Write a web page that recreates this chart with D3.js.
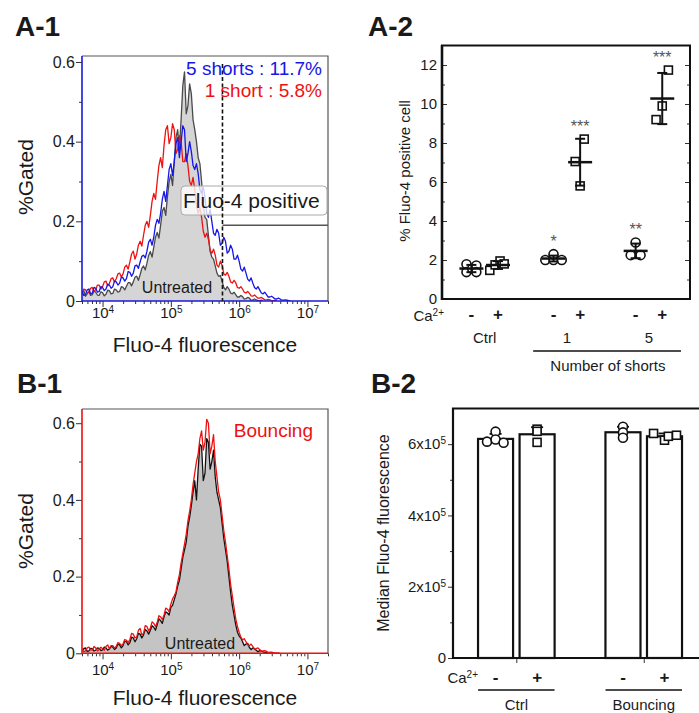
<!DOCTYPE html>
<html lang="en">
<head>
  <meta charset="UTF-8" />
  <title>Fluo-4 fluorescence</title>
  <script src="https://d3js.org/d3.v7.min.js"></script>
  <style>
    body { margin: 0; background: #fff; }
    svg { display: block; font-family: "Liberation Sans", Arial, sans-serif; }
    text { fill: #1a1a1a; }
  </style>
</head>
<body>
  <svg width="699" height="713"></svg>
  <script>
    // histogram bins: log10(fluorescence), first bin 3.700, step 0.025
    const binStart = 3.70;
    const binStep = 0.025;

    const a1Untreated = [
      .020, .026, .012, .018, .024, .014, .016, .025, .022, .015,
      .014, .023, .021, .013, .017, .027, .026, .018, .019, .030,
      .028, .022, .024, .036, .034, .028, .037, .046, .046, .038,
      .048, .060, .062, .052, .066, .082, .088, .078, .095, .115,
      .124, .110, .135, .160, .172, .158, .190, .225, .235, .215,
      .262, .300, .318, .290, .350, .410, .430, .380, .455, .540,
      .575, .470, .490, .545, .520, .455, .430, .400, .360, .345,
      .300, .240, .210, .205, .165, .125, .110, .105, .088, .070,
      .062, .064, .050, .034, .028, .036, .030, .020, .018, .022,
      .016, .010, .010, .014, .011, .005, .006, .009, .007, .002,
      .003, .005, .003, .001, .001, .002, 0
    ];
    const a1OneShort = [
      .018, .030, .028, .020, .022, .032, .034, .024, .028, .040,
      .040, .030, .036, .048, .050, .038, .044, .056, .058, .048,
      .056, .068, .070, .060, .068, .085, .090, .080, .098, .118,
      .125, .105, .118, .140, .150, .138, .165, .190, .200, .185,
      .215, .250, .270, .255, .300, .340, .360, .335, .390, .430,
      .440, .395, .410, .445, .430, .370, .380, .415, .400, .350,
      .350, .370, .340, .300, .290, .310, .280, .240, .220, .235,
      .210, .175, .160, .170, .155, .128, .120, .130, .115, .090,
      .085, .100, .090, .068, .065, .072, .062, .048, .045, .052,
      .046, .034, .032, .036, .030, .022, .020, .024, .019, .013,
      .012, .015, .011, .007, .007, .009, .006, .003, .003, .004,
      .003, .001, .001, .001, 0
    ];
    const a1FiveShorts = [
      .024, .014, .016, .028, .030, .018, .020, .034, .032, .022,
      .024, .036, .034, .026, .030, .042, .040, .032, .036, .050,
      .048, .040, .045, .060, .058, .050, .056, .074, .072, .062,
      .070, .088, .090, .082, .098, .112, .115, .108, .125, .148,
      .155, .140, .160, .190, .205, .195, .220, .255, .275, .250,
      .290, .330, .345, .315, .350, .395, .410, .360, .400, .440,
      .430, .350, .370, .400, .375, .340, .330, .345, .320, .280,
      .270, .285, .260, .220, .210, .230, .200, .170, .165, .180,
      .170, .140, .145, .160, .150, .120, .125, .140, .130, .105,
      .105, .115, .100, .080, .075, .085, .070, .055, .050, .058,
      .045, .034, .030, .036, .028, .020, .018, .022, .016, .010,
      .010, .012, .009, .005, .005, .007, .005, .002, .002, .003,
      .002, .001, 0
    ];
    const b1Untreated = [
      .008, .012, .014, .005, .006, .013, .012, .006, .008, .014,
      .013, .007, .009, .016, .014, .008, .011, .018, .016, .010,
      .014, .024, .022, .014, .020, .032, .030, .022, .028, .042,
      .040, .030, .038, .052, .050, .040, .048, .062, .058, .050,
      .060, .072, .068, .060, .075, .090, .085, .078, .095, .108,
      .105, .100, .120, .125, .140, .155, .175, .190, .220, .250,
      .270, .290, .330, .355, .385, .420, .450, .400, .480, .545,
      .540, .450, .470, .560, .550, .480, .500, .530, .460, .420,
      .400, .380, .340, .300, .270, .240, .200, .160, .125, .100,
      .075, .055, .045, .040, .030, .020, .024, .026, .015, .010,
      .014, .012, .008, .004, .007, .006, .004, .002, .003, .002,
      .001, .001, 0
    ];
    const b1Bouncing = [
      .012, .004, .006, .014, .016, .009, .008, .018, .014, .006,
      .010, .016, .012, .008, .018, .022, .012, .020, .020, .014,
      .018, .028, .026, .020, .024, .036, .034, .028, .036, .052,
      .050, .040, .042, .060, .065, .048, .052, .072, .070, .058,
      .066, .082, .078, .070, .080, .098, .095, .088, .100, .118,
      .115, .108, .128, .142, .150, .160, .185, .205, .235, .260,
      .285, .310, .345, .370, .400, .440, .470, .500, .520, .560,
      .580, .530, .550, .610, .600, .520, .540, .570, .500, .460,
      .420, .400, .360, .320, .290, .255, .220, .180, .150, .120,
      .090, .070, .055, .042, .035, .038, .030, .022, .020, .024,
      .018, .010, .012, .014, .010, .005, .006, .007, .005, .002,
      .003, .003, .002, .001, .001, .001, 0
    ];
    const histTicks = [1e4, 1e5, 1e6, 1e7];
    const gatedTicks = [0, 0.2, 0.4, 0.6];
    const gatedMinor = [0.1, 0.3, 0.5];
    const gateCut = 5.7e5;
    const gateLevel = 0.19;

    // A-2: % Fluo-4 positive cells per condition
    const a2Groups = ["Ctrl", "1", "5"];
    const a2Ca = ["-", "+", "-", "+", "-", "+"];
    const a2Shapes = ["circle", "square", "circle", "square", "circle", "square"];
    const a2Points = [
      [1.78, 1.38, 1.55, 1.72, 1.38],
      [1.47, 1.75, 1.95, 1.80],
      [2.00, 2.00, 2.30, 2.00],
      [7.05, 8.20, 5.80],
      [2.25, 2.90, 2.25],
      [9.20, 9.90, 11.74]
    ];
    const a2Jitter = [
      [-0.06, -0.06, 0.01, 0.06, 0.06],
      [-0.1, -0.035, 0.025, 0.075],
      [-0.1, 0, 0, 0.1],
      [-0.06, 0.05, 0],
      [-0.06, 0, 0.06],
      [-0.075, 0, 0.075]
    ];
    const a2Stars = ["", "", "*", "***", "**", "***"];
    const a2Ticks = [0, 2, 4, 6, 8, 10, 12];

    // B-2: median Fluo-4 fluorescence per condition
    const b2Groups = ["Ctrl", "Bouncing"];
    const b2Ca = ["-", "+", "-", "+"];
    const b2Shapes = ["circle", "square", "circle", "square"];
    const b2Points = [
      [6.07e5, 6.35e5, 6.13e5, 6.04e5],
      [6.42e5, 6.36e5, 6.05e5],
      [6.49e5, 6.33e5, 6.18e5],
      [6.30e5, 6.11e5, 6.22e5, 6.25e5]
    ];
    const b2Jitter = [
      [-0.067, 0, 0, 0.063],
      [0, 0, 0],
      [0, 0, 0],
      [-0.086, 0, 0.03, 0.094]
    ];
    const b2Ticks = [0, 2e5, 4e5, 6e5];

    const svg = d3.select("svg");

    function marker(sel, shape, cx, cy) {
      if (shape === "circle") {
        sel.append("circle").attr("cx", cx).attr("cy", cy).attr("r", 4.5)
          .attr("fill", "#fff").attr("stroke", "#111").attr("stroke-width", 1.6);
      } else {
        sel.append("rect").attr("x", cx - 4).attr("y", cy - 4).attr("width", 8).attr("height", 8)
          .attr("fill", "#fff").attr("stroke", "#111").attr("stroke-width", 1.6);
      }
    }

    function cleanAxis(a, size) {
      a.attr("font-family", null).attr("font-size", size);
      a.select(".domain").remove();
      a.selectAll(".tick line").attr("stroke", "#333");
      a.selectAll(".tick text").attr("fill", "#1a1a1a");
    }

    function caLabel(g, xEnd, yBase) {
      const t = g.append("text").attr("x", xEnd).attr("y", yBase).attr("text-anchor", "end")
        .attr("font-size", 15).text("Ca");
      t.append("tspan").attr("dy", -5).attr("font-size", 10).text("2+");
    }

    // ---------- histogram panels ----------
    function drawHist(cfg) {
      const g = svg.append("g");
      const x = d3.scaleLog().domain([5e3, 2e7]).range([82, 328]);
      const y = d3.scaleLinear().domain([0, cfg.yMax]).range([cfg.y0, cfg.yTop]);
      const bx = (d, i) => x(Math.pow(10, binStart + i * binStep));

      g.append("clipPath").attr("id", cfg.id).append("rect")
        .attr("x", 82).attr("y", cfg.yTop).attr("width", 246).attr("height", cfg.y0 - cfg.yTop);
      const plot = g.append("g").attr("clip-path", `url(#${cfg.id})`);

      plot.append("path").datum(cfg.fill)
        .attr("d", d3.area().x(bx).y0(y(0)).y1(d => y(d)))
        .attr("fill", cfg.fillColor);

      const line = d3.line().x(bx).y(d => y(d));
      cfg.lines.forEach(l => {
        plot.append("path").datum(l.values).attr("d", line)
          .attr("fill", "none").attr("stroke", l.color)
          .attr("stroke-width", 1.3).attr("stroke-linejoin", "round");
      });

      // y axis
      g.append("g").attr("transform", "translate(82,0)")
        .call(d3.axisLeft(y).tickValues(gatedMinor).tickSize(3).tickFormat(""))
        .call(a => cleanAxis(a, 16));
      g.append("g").attr("transform", "translate(82,0)")
        .call(d3.axisLeft(y).tickValues(gatedTicks).tickSize(6).tickPadding(1)
          .tickFormat(d => d === 0 ? "0" : d.toFixed(1)))
        .call(a => cleanAxis(a, 16));

      // x axis, log ticks
      const minor = x.ticks().filter(d => !histTicks.includes(d));
      g.append("g").attr("transform", `translate(0,${cfg.y0})`)
        .call(d3.axisBottom(x).tickValues(minor).tickSize(3).tickFormat(""))
        .call(a => cleanAxis(a, 15));
      g.append("g").attr("transform", `translate(0,${cfg.y0})`)
        .call(d3.axisBottom(x).tickValues(histTicks).tickSize(6).tickPadding(cfg.tickPad).tickFormat(""))
        .call(a => {
          cleanAxis(a, 15);
          a.selectAll(".tick text").each(function (d) {
            const t = d3.select(this);
            t.text("10");
            t.append("tspan").attr("dy", "-0.5em").attr("font-size", 10).text(Math.round(Math.log10(d)));
          });
        });

      // frame: coloured left/bottom, gray top/right
      g.append("path").attr("fill", "none").attr("stroke", "#555").attr("stroke-width", 1.2)
        .attr("d", `M82,${cfg.yTop}H328V${cfg.y0}`);
      g.append("path").attr("fill", "none").attr("stroke", cfg.axisColor).attr("stroke-width", 1.6)
        .attr("d", `M82,${cfg.yTop}V${cfg.y0}H328`);

      g.append("text").attr("x", 205).attr("y", cfg.titleY).attr("text-anchor", "middle")
        .attr("font-size", 21).text("Fluo-4 fluorescence");
      g.append("text").attr("transform", `translate(33,${cfg.yLabelY}) rotate(-90)`)
        .attr("text-anchor", "middle").attr("font-size", 21).text("%Gated");
      return { g, x, y };
    }

    const a1 = drawHist({
      id: "clipA1", yMax: 0.615, y0: 301, yTop: 56, tickPad: 0, titleY: 352, yLabelY: 177,
      fill: a1Untreated, fillColor: "#d5d5d5", axisColor: "#1a1ae0",
      lines: [
        { values: a1Untreated, color: "#4a4a4a" },
        { values: a1OneShort, color: "#ee1111" },
        { values: a1FiveShorts, color: "#1616e8" }
      ]
    });

    // gate annotation
    a1.g.append("rect").attr("x", 181).attr("y", 186).attr("width", 146).attr("height", 29).attr("rx", 4)
      .attr("fill", "rgba(255,255,255,0.78)").attr("stroke", "#aaa").attr("stroke-width", 1);
    a1.g.append("text").attr("x", 183).attr("y", 208).attr("font-size", 21).text("Fluo-4 positive");
    a1.g.append("line").attr("x1", a1.x(gateCut)).attr("x2", a1.x(gateCut))
      .attr("y1", a1.y(0.6) + 2).attr("y2", a1.y(0))
      .attr("stroke", "#111").attr("stroke-width", 1.6).attr("stroke-dasharray", "4,2.5");
    a1.g.append("line").attr("x1", a1.x(gateCut)).attr("x2", 328)
      .attr("y1", a1.y(gateLevel)).attr("y2", a1.y(gateLevel))
      .attr("stroke", "#555").attr("stroke-width", 1.5);
    a1.g.append("text").attr("x", 322).attr("y", 75).attr("text-anchor", "end")
      .attr("font-size", 19).style("fill", "#1616e8").text("5 shorts : 11.7%");
    a1.g.append("text").attr("x", 322).attr("y", 97).attr("text-anchor", "end")
      .attr("font-size", 19).style("fill", "#ee1111").text("1 short : 5.8%");
    a1.g.append("text").attr("x", 177).attr("y", 293).attr("text-anchor", "middle")
      .attr("font-size", 16).text("Untreated");

    const b1 = drawHist({
      id: "clipB1", yMax: 0.637, y0: 653.3, yTop: 409, tickPad: 5, titleY: 705, yLabelY: 531,
      fill: b1Untreated, fillColor: "#c4c4c4", axisColor: "#ee1111",
      lines: [
        { values: b1Untreated, color: "#111" },
        { values: b1Bouncing, color: "#ee1111" }
      ]
    });
    b1.g.append("text").attr("x", 313).attr("y", 437).attr("text-anchor", "end")
      .attr("font-size", 19).style("fill", "#ee1111").text("Bouncing");
    b1.g.append("text").attr("x", 200).attr("y", 649).attr("text-anchor", "middle")
      .attr("font-size", 16).text("Untreated");

    // ---------- A-2 scatter ----------
    {
      const g = svg.append("g");
      const x = d3.scaleLinear().domain([-0.52, 2.5]).range([442, 690]);
      const y = d3.scaleLinear().domain([0, 13]).range([299, 45.5]);
      const pos = k => Math.floor(k / 2) + (k % 2 ? 0.162 : -0.162);

      a2Points.forEach((vals, k) => {
        const cx = pos(k);
        vals.forEach((v, j) => marker(g, a2Shapes[k], x(cx + a2Jitter[k][j]), y(v)));
        const m = d3.mean(vals), sd = d3.deviation(vals);
        g.append("line").attr("x1", x(cx)).attr("x2", x(cx)).attr("y1", y(m - sd)).attr("y2", y(m + sd))
          .attr("stroke", "#111").attr("stroke-width", 2);
        [m - sd, m + sd].forEach(v => g.append("line")
          .attr("x1", x(cx) - 5).attr("x2", x(cx) + 5).attr("y1", y(v)).attr("y2", y(v))
          .attr("stroke", "#111").attr("stroke-width", 2));
        g.append("line").attr("x1", x(cx) - 12).attr("x2", x(cx) + 12).attr("y1", y(m)).attr("y2", y(m))
          .attr("stroke", "#111").attr("stroke-width", 2.5);
        if (a2Stars[k]) {
          g.append("text").attr("x", x(cx)).attr("y", y(d3.max(vals)) - 7)
            .attr("text-anchor", "middle").attr("font-size", 16).style("fill", "#555").text(a2Stars[k]);
        }
        g.append("text").attr("x", x(cx)).attr("y", 320).attr("text-anchor", "middle")
          .attr("font-size", 17).attr("font-weight", "bold").text(a2Ca[k]);
      });

      const inner = d3.range(1, 13, 2);
      g.append("g").attr("transform", "translate(442,0)")
        .call(d3.axisLeft(y).tickValues(a2Ticks).tickSizeInner(-5).tickSizeOuter(0).tickPadding(5))
        .call(a => cleanAxis(a, 15));
      g.append("g").attr("transform", "translate(442,0)")
        .call(d3.axisLeft(y).tickValues(inner).tickSize(-3).tickFormat(""))
        .call(a => cleanAxis(a, 15));
      g.append("g").attr("transform", "translate(690,0)")
        .call(d3.axisRight(y).tickValues(a2Ticks).tickSize(-5).tickFormat(""))
        .call(a => cleanAxis(a, 15));
      g.append("g").attr("transform", "translate(690,0)")
        .call(d3.axisRight(y).tickValues(inner).tickSize(-3).tickFormat(""))
        .call(a => cleanAxis(a, 15));

      g.append("rect").attr("x", 442).attr("y", 45.5).attr("width", 248).attr("height", 253.5)
        .attr("fill", "none").attr("stroke", "#111").attr("stroke-width", 2);
      g.append("line").attr("x1", 442).attr("x2", 442).attr("y1", 45).attr("y2", 300)
        .attr("stroke", "#111").attr("stroke-width", 2.6);

      g.append("text").attr("transform", "translate(410,171) rotate(-90)").attr("text-anchor", "middle")
        .attr("font-size", 15).text("% Fluo-4 positive cell");
      caLabel(g, 444, 321);
      a2Groups.forEach((name, i) => g.append("text").attr("x", x(i)).attr("y", 343)
        .attr("text-anchor", "middle").attr("font-size", 15).text(name));
      g.append("line").attr("x1", x(0.59)).attr("x2", x(2.39)).attr("y1", 351).attr("y2", 351)
        .attr("stroke", "#111").attr("stroke-width", 1.6);
      g.append("text").attr("x", x(1.5)).attr("y", 371).attr("text-anchor", "middle")
        .attr("font-size", 15).text("Number of shorts");
    }

    // ---------- B-2 bars ----------
    {
      const g = svg.append("g");
      const x = d3.scaleLinear().domain([-0.497, 1.418]).range([453, 697]);
      const y = d3.scaleLinear().domain([0, 7e5]).range([658, 408.5]);
      const pos = k => Math.floor(k / 2) + (k % 2 ? 0.163 : -0.163);
      const bw = 0.275;

      b2Points.forEach((vals, k) => {
        const cx = pos(k);
        const m = d3.mean(vals), sd = d3.deviation(vals);
        g.append("line").attr("x1", x(cx)).attr("x2", x(cx)).attr("y1", y(m)).attr("y2", y(m + sd))
          .attr("stroke", "#111").attr("stroke-width", 1.8);
        g.append("line").attr("x1", x(cx) - 6).attr("x2", x(cx) + 6).attr("y1", y(m + sd)).attr("y2", y(m + sd))
          .attr("stroke", "#111").attr("stroke-width", 1.8);
        g.append("rect").attr("x", x(cx - bw / 2)).attr("y", y(m))
          .attr("width", x(bw) - x(0)).attr("height", y(0) - y(m))
          .attr("fill", "#fff").attr("stroke", "#111").attr("stroke-width", 2.2);
        vals.forEach((v, j) => marker(g, b2Shapes[k], x(cx + b2Jitter[k][j]), y(v)));
        g.append("text").attr("x", x(cx)).attr("y", 683).attr("text-anchor", "middle")
          .attr("font-size", 17).attr("font-weight", "bold").text(b2Ca[k]);
      });

      g.append("g").attr("transform", "translate(453,0)")
        .call(d3.axisLeft(y).tickValues([1e5, 3e5, 5e5]).tickSize(3).tickFormat(""))
        .call(a => cleanAxis(a, 15));
      g.append("g").attr("transform", "translate(453,0)")
        .call(d3.axisLeft(y).tickValues(b2Ticks).tickSize(5).tickPadding(2).tickFormat(""))
        .call(a => {
          cleanAxis(a, 15);
          a.selectAll(".tick text").each(function (d) {
            const t = d3.select(this);
            if (d === 0) { t.text("0"); return; }
            t.text(`${d / 1e5}x10`);
            t.append("tspan").attr("dy", "-0.5em").attr("font-size", 10).text("5");
          });
        });
      g.append("g").attr("transform", "translate(0,658)")
        .call(d3.axisBottom(x).tickValues([0, 1]).tickSize(5).tickFormat(""))
        .call(a => cleanAxis(a, 15));

      g.append("path").attr("fill", "none").attr("stroke", "#111").attr("stroke-width", 2.2)
        .attr("d", "M699,408.5H453V658H699");

      g.append("text").attr("transform", "translate(389,533) rotate(-90)").attr("text-anchor", "middle")
        .attr("font-size", 16).text("Median Fluo-4 fluorescence");
      caLabel(g, 478, 683);
      b2Groups.forEach((name, i) => {
        g.append("line").attr("x1", x(i - 0.3)).attr("x2", x(i + 0.3)).attr("y1", 690).attr("y2", 690)
          .attr("stroke", "#111").attr("stroke-width", 1.6);
        g.append("text").attr("x", x(i)).attr("y", 710).attr("text-anchor", "middle")
          .attr("font-size", 15).text(name);
      });
    }

    // panel letters
    [["A-1", 15, 36], ["A-2", 368, 36], ["B-1", 17, 393], ["B-2", 371, 393]].forEach(([t, px, py]) => {
      svg.append("text").attr("x", px).attr("y", py).attr("font-size", 28).attr("font-weight", "bold").text(t);
    });
  </script>
</body>
</html>
